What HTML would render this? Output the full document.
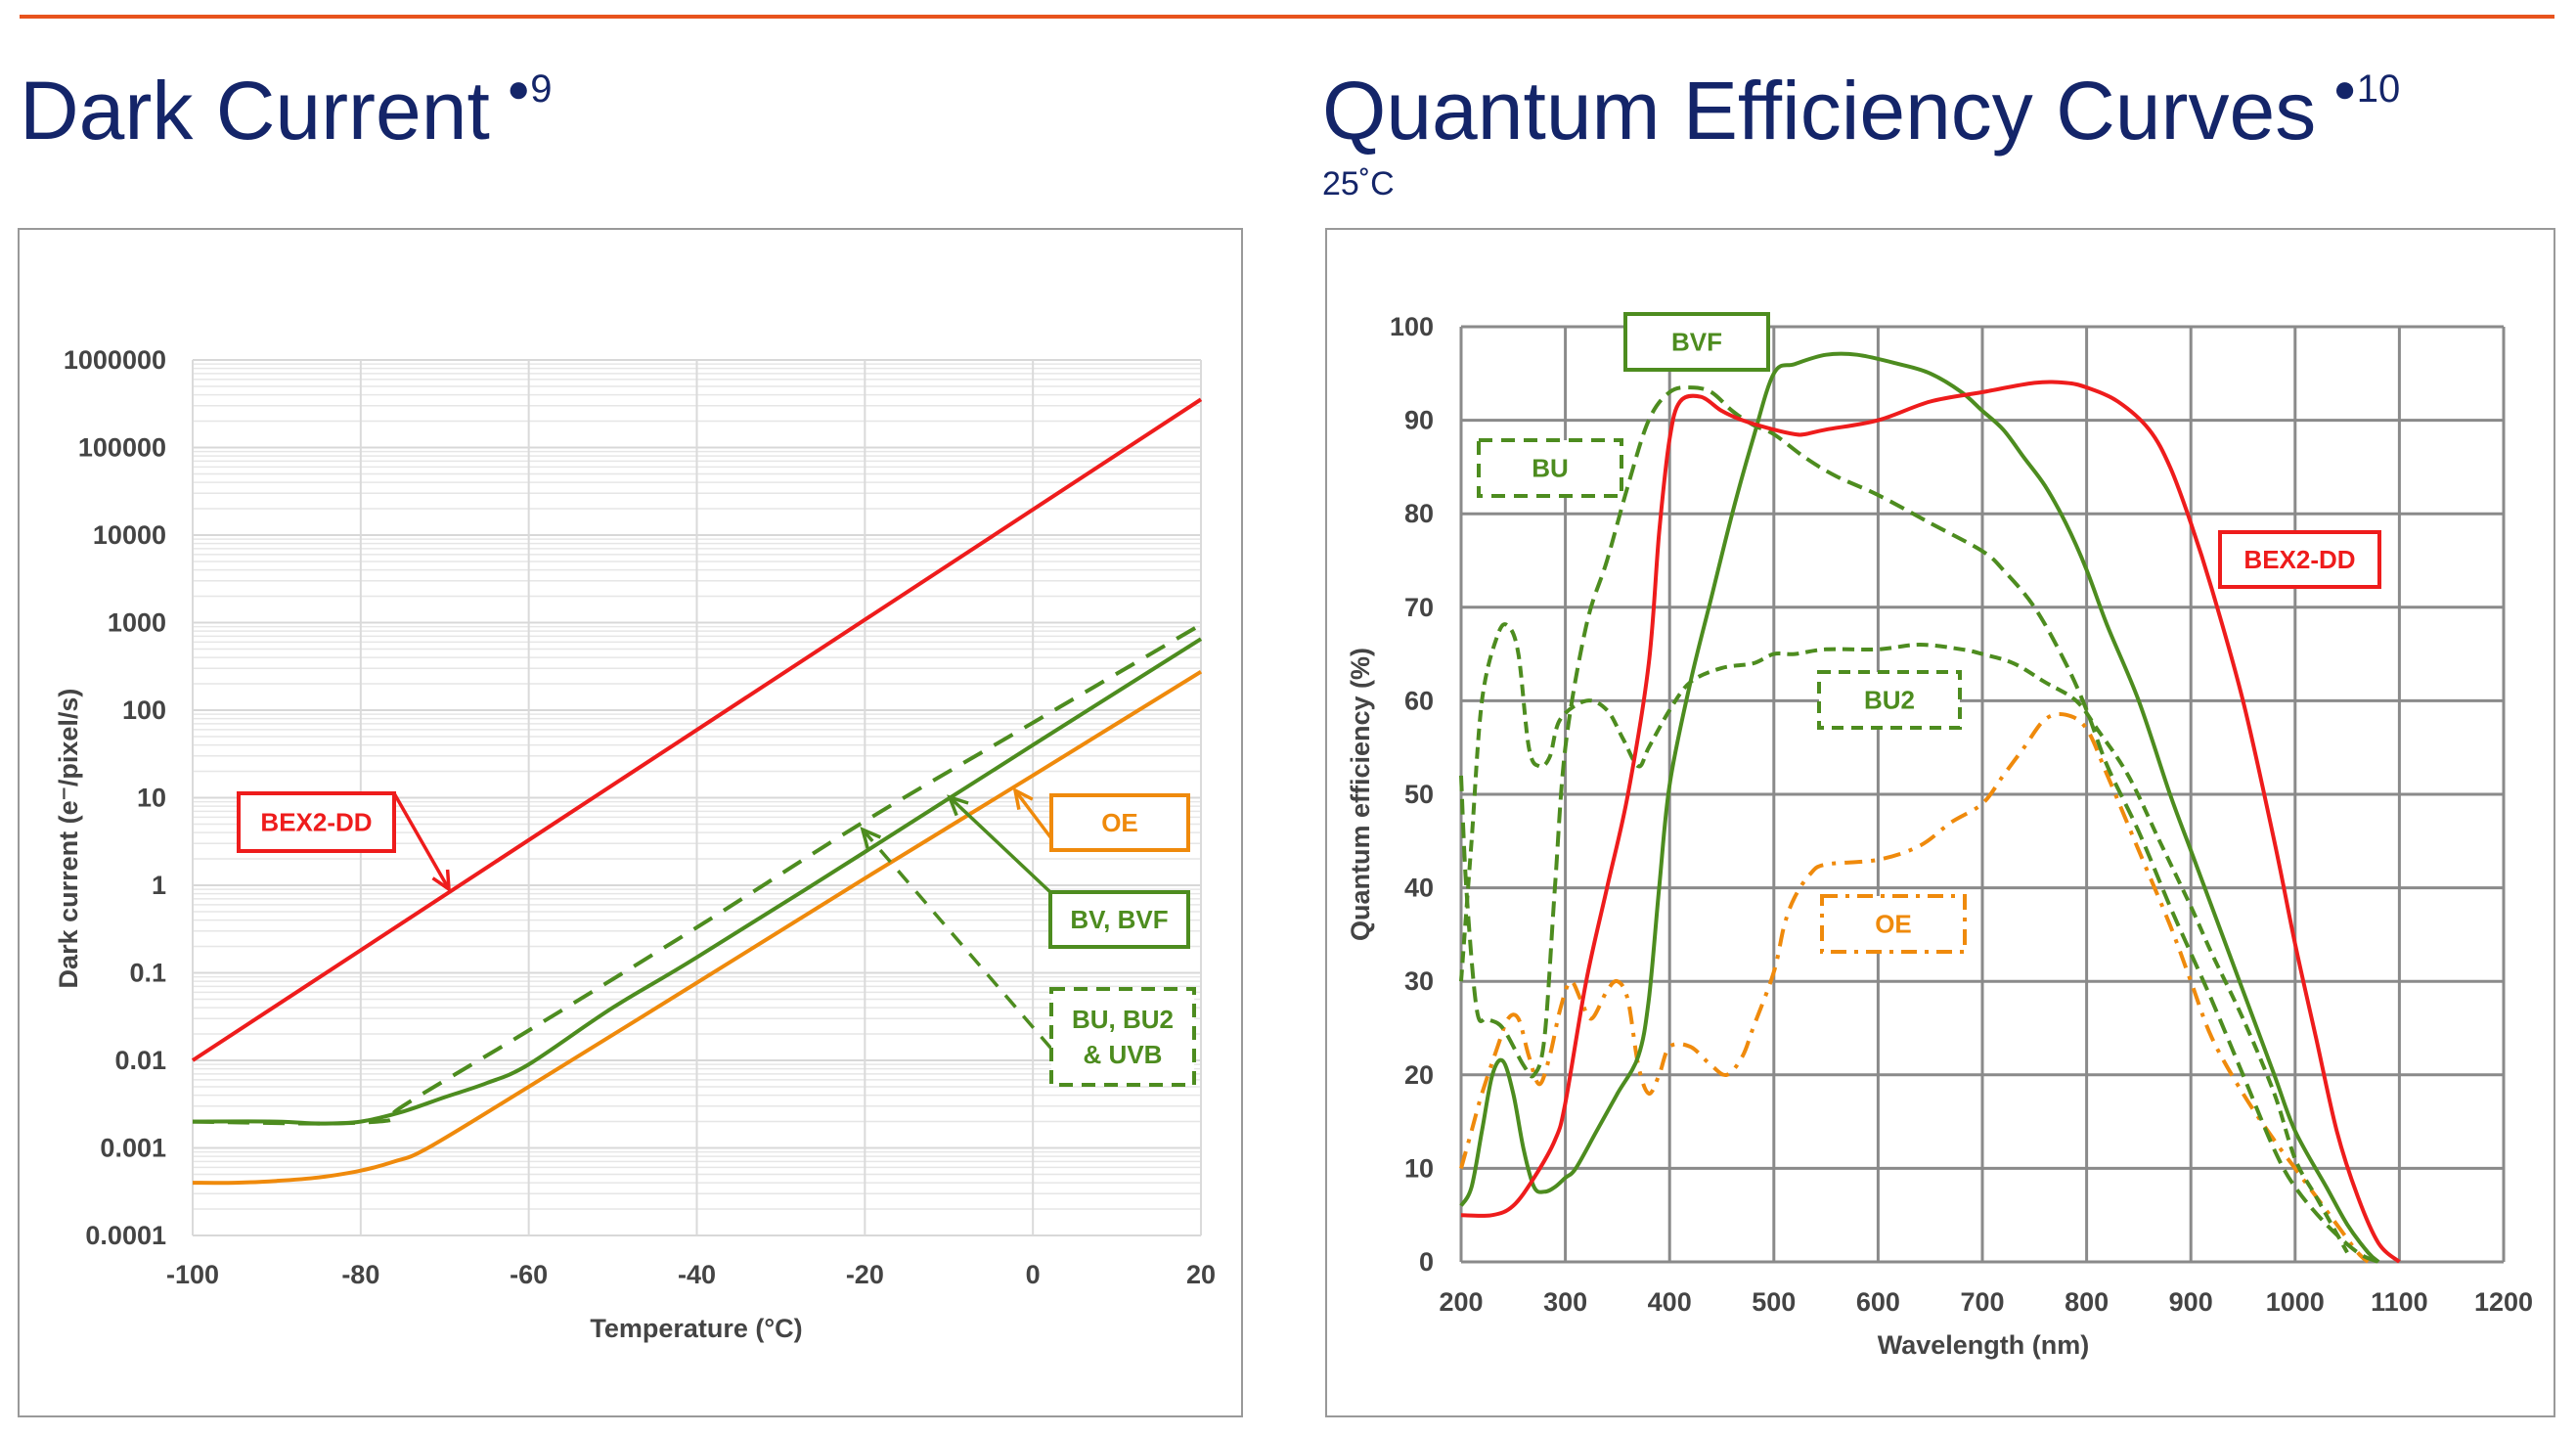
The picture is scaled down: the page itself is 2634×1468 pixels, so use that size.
<!DOCTYPE html>
<html><head><meta charset="utf-8"><style>
html,body{margin:0;padding:0;background:#fff;}
svg{display:block;font-family:"Liberation Sans",sans-serif;}
</style></head><body>
<svg id="s" width="2634" height="1468" viewBox="0 0 2634 1468" xmlns="http://www.w3.org/2000/svg">
<rect x="20" y="15" width="2592" height="4" fill="#e8531d"/>
<text x="20" y="142" font-size="84" fill="#142569">Dark Current <tspan font-size="40" dy="-38" dx="-6">●9</tspan></text>
<text x="1352" y="142" font-size="84" fill="#142569">Quantum Efficiency Curves <tspan font-size="40" dy="-38" dx="-6">●10</tspan></text>
<text x="1352" y="199" font-size="34" fill="#142569">25˚C</text>
<rect x="19" y="234" width="1251" height="1214" fill="none" stroke="#999" stroke-width="2"/>
<rect x="1356" y="234" width="1256" height="1214" fill="none" stroke="#999" stroke-width="2"/>
<g id="L"></g>
<g id="R"></g>
</svg>
<script>
// ---- Dark current data ----
const dcTempTicks = [-100,-80,-60,-40,-20,0,20];
const dcYTickLabels = ["0.0001","0.001","0.01","0.1","1","10","100","1000","10000","100000","1000000"];
const bexTemps = [-100,20];
const bexVals = [0.01,355000];
const bvTemps = [-100,-90,-85,-80,-75,-70,-65,-60,-50,-40,-20,0,20];
const bvVals = [0.002,0.002,0.0019,0.002,0.0026,0.0038,0.0055,0.009,0.04,0.15,2.4,40,650];
const buTemps = [-100,-85,-78,-76,-75,-60,-40,-20,0,20];
const buVals = [0.002,0.0019,0.002,0.0022,0.003,0.022,0.33,5.4,72,950];
const oeTemps = [-100,-95,-90,-85,-80,-76,-72,-60,-40,-20,0,20];
const oeVals = [0.0004,0.0004,0.00042,0.00046,0.00055,0.0007,0.001,0.005,0.077,1.2,18,275];

// ---- QE data ----
const qeXTicks = [200,300,400,500,600,700,800,900,1000,1100,1200];
const qeYTicks = [0,10,20,30,40,50,60,70,80,90,100];
const bexW = [200,230,250,270,290,300,320,340,360,380,390,400,410,430,450,470,500,520,530,550,600,650,700,750,780,800,830,860,880,900,920,950,980,1000,1020,1040,1060,1080,1100];
const bexQ = [5,5,6,9,13,17,30,40,50,64,78,88,92,92.5,91,90,89,88.5,88.5,89,90,92,93,94,94,93.5,92,89,85,79,72,60,45,34,24,14,7,2,0];
const bvfW = [200,210,220,230,240,250,260,270,280,290,300,310,330,350,370,380,390,400,420,440,460,480,500,520,550,580,620,650,680,700,720,740,760,780,800,820,850,880,900,920,950,980,1000,1030,1050,1070,1080];
const bvfQ = [6,8,14,20,21.5,18,12,8,7.5,8,9,10,14,18,22,28,40,51,62,71,80,88,95,96,97,97,96,95,93,91,89,86,83,79,74,68,60,50,44,38,29,20,14,8,4,1,0];
const buW = [200,205,215,225,240,260,270,280,290,300,320,340,360,380,400,420,440,460,480,500,530,560,600,650,700,720,750,780,800,820,850,880,900,920,950,980,1000,1030,1060,1080];
const buQ = [52,40,27,26,25,21,20,24,40,55,68,75,83,90,93,93.5,93,91,89.5,88.5,86,84,82,79,76,74,70,64,59,53,46,38,33,28,20,12,8,4,1,0];
const bu2W = [200,210,220,235,245,255,265,275,285,295,320,340,355,370,380,400,420,450,480,500,520,550,600,640,680,700,730,760,790,810,840,870,900,920,950,980,1000,1020,1040,1050];
const bu2Q = [30,45,60,67,68,65,55,53,54,58,60,59,56,53,55,59,62,63.5,64,65,65,65.5,65.5,66,65.5,65,64,62,60,57,52,45,38,33,26,18,11,7,3,1];
const oeW = [200,210,220,235,245,255,265,275,285,295,305,315,325,340,350,360,370,380,390,400,420,440,455,470,480,500,510,520,535,550,600,640,670,700,720,740,760,780,800,820,850,880,900,920,950,980,1000,1020,1040,1060,1070];
const oeQ = [10,14,18,23,26,26,22,19,22,27,30,28,26,29,30,28,21,18,20,23,23,21,20,22,25,31,36,39,41.5,42.5,43,44.5,47,49,52,55,58,58.5,57,52,44,36,30,24,18,13,10,7,4,1,0];

const NS="http://www.w3.org/2000/svg";
function mk(parent,tag,attrs,text){const e=document.createElementNS(NS,tag);for(const k in attrs)e.setAttribute(k,attrs[k]);if(text!==undefined)e.textContent=text;parent.appendChild(e);return e;}
const RED="#ee1c1c",GREEN="#4d8c1f",ORANGE="#ef8a0c";
function smoothPts(P){let d='M'+P[0][0].toFixed(1)+','+P[0][1].toFixed(1);
for(let i=0;i<P.length-1;i++){const p0=P[i-1]||P[i],p1=P[i],p2=P[i+1],p3=P[i+2]||p2;
const c1=[p1[0]+(p2[0]-p0[0])/6,p1[1]+(p2[1]-p0[1])/6],c2=[p2[0]-(p3[0]-p1[0])/6,p2[1]-(p3[1]-p1[1])/6];
d+=`C${c1[0].toFixed(1)},${c1[1].toFixed(1)} ${c2[0].toFixed(1)},${c2[1].toFixed(1)} ${p2[0].toFixed(1)},${p2[1].toFixed(1)}`;}return d;}

// ---- Left chart ----
const L=document.getElementById('L');
const lx0=197,lx1=1228,ly0=1263,ly1=368;
const lX=t=>lx0+(t+100)/120*(lx1-lx0);
const lY=v=>ly0-(Math.log10(v)+4)/10*(ly0-ly1);
for(let d=-4;d<6;d++){for(let m=2;m<10;m++){const v=m*Math.pow(10,d);const ln=mk(L,'line',{x1:lx0,x2:lx1,y1:lY(v),y2:lY(v),stroke:'#e6e6e6','stroke-width':1.5});

}}
dcYTickLabels.forEach((lab,i)=>{const v=Math.pow(10,i-4);const y=lY(v);
const ln=mk(L,'line',{x1:lx0,x2:lx1,y1:y,y2:y,stroke:'#d8d8d8','stroke-width':2});


const t=mk(L,'text',{x:170,y:y+9,'text-anchor':'end','font-size':27,'font-weight':'bold',fill:'#444'},lab);

});
dcTempTicks.forEach(tk=>{const x=lX(tk);
const ln=mk(L,'line',{x1:x,x2:x,y1:ly1,y2:ly0,stroke:'#dadada','stroke-width':2});


const t=mk(L,'text',{x:x,y:1312,'text-anchor':'middle','font-size':27,'font-weight':'bold',fill:'#444'},String(tk));

});
let tt=mk(L,'text',{x:712,y:1367,'text-anchor':'middle','font-size':27,'font-weight':'bold',fill:'#444'},"Temperature (°C)");


tt=mk(L,'text',{x:0,y:0,'text-anchor':'middle','font-size':27,'font-weight':'bold',fill:'#444',transform:'translate(79,857) rotate(-90)'},"Dark current (e⁻/pixel/s)");


function lpath(ts,vs,col,dash,name){const d=smoothPts(ts.map((t,i)=>[lX(t),lY(vs[i])]));
const p=mk(L,'path',{d:d,fill:'none',stroke:col,'stroke-width':4,'stroke-dasharray':dash||'none','stroke-linejoin':'round'});

}
lpath(oeTemps,oeVals,ORANGE,null,'oe-line');
lpath(buTemps,buVals,GREEN,'22,14','bu-line');
lpath(bvTemps,bvVals,GREEN,null,'bv-line');
lpath(bexTemps,bexVals,RED,null,'bex2-dd-line');

function box(g,x,y,w,h,col,dash,lines,name){const b=mk(g,'rect',{x:x,y:y,width:w,height:h,fill:'#fff',stroke:col,'stroke-width':4,'stroke-dasharray':dash||'none'});


lines.forEach((s,i)=>{const t=mk(g,'text',{x:x+w/2,y:y+h/2+9+(i-(lines.length-1)/2)*36,'text-anchor':'middle','font-size':26,'font-weight':'bold',fill:col},s);

});}
function arrow(g,x1,y1,x2,y2,col,dash,name){const p=mk(g,'line',{x1:x1,y1:y1,x2:x2,y2:y2,stroke:col,'stroke-width':3.5,'stroke-dasharray':dash||'none'});


const a=Math.atan2(y2-y1,x2-x1),L2=20;
const h=mk(g,'path',{d:`M${x2-L2*Math.cos(a-0.45)},${y2-L2*Math.sin(a-0.45)}L${x2},${y2}L${x2-L2*Math.cos(a+0.45)},${y2-L2*Math.sin(a+0.45)}`,fill:'none',stroke:col,'stroke-width':3.5});

}
box(L,244,811,159,59,RED,null,["BEX2-DD"],'bex2-dd-annotation');
arrow(L,403,811,459,909,RED,null,'bex2-dd-arrow');
box(L,1075,813,140,56,ORANGE,null,["OE"],'oe-annotation');
arrow(L,1075,857,1038,808,ORANGE,null,'oe-arrow');
box(L,1074,912,141,56,GREEN,null,["BV, BVF"],'bv-annotation');
arrow(L,1074,912,971,815,GREEN,null,'bv-arrow');
arrow(L,1075,1072,882,848,GREEN,'16,12','bu-arrow');
box(L,1075,1011,146,98,GREEN,'14,9',["BU, BU2","& UVB"],'bu-annotation');

// ---- Right chart ----
const R=document.getElementById('R');
const rx0=1494,rx1=2560,ry0=1290,ry1=334;
const rX=w=>rx0+(w-200)/1000*(rx1-rx0);
const rY=q=>ry0-q/100*(ry0-ry1);
qeYTicks.forEach(q=>{const y=rY(q);
const ln=mk(R,'line',{x1:rx0,x2:rx1,y1:y,y2:y,stroke:'#8a8a8a','stroke-width':3});


const t=mk(R,'text',{x:1466,y:y+9,'text-anchor':'end','font-size':27,'font-weight':'bold',fill:'#444'},String(q));

});
qeXTicks.forEach(w=>{const x=rX(w);
const ln=mk(R,'line',{x1:x,x2:x,y1:ry1,y2:ry0,stroke:'#8a8a8a','stroke-width':3});


const t=mk(R,'text',{x:x,y:1340,'text-anchor':'middle','font-size':27,'font-weight':'bold',fill:'#444'},String(w));

});
tt=mk(R,'text',{x:2028,y:1384,'text-anchor':'middle','font-size':27,'font-weight':'bold',fill:'#444'},"Wavelength (nm)");


tt=mk(R,'text',{x:0,y:0,'text-anchor':'middle','font-size':27,'font-weight':'bold',fill:'#444',transform:'translate(1400,812) rotate(-90)'},"Quantum efficiency (%)");


function rpath(ws,qs,col,dash,name){const p=mk(R,'path',{d:smoothPts(ws.map((w,i)=>[rX(w),rY(qs[i])])),fill:'none',stroke:col,'stroke-width':4,'stroke-dasharray':dash||'none','stroke-linejoin':'round'});

}
rpath(oeW,oeQ,ORANGE,'18,9,4,9','oe-curve');
rpath(bu2W,bu2Q,GREEN,'12,7','bu2-curve');
rpath(buW,buQ,GREEN,'16,8','bu-curve');
rpath(bvfW,bvfQ,GREEN,null,'bvf-curve');
rpath(bexW,bexQ,RED,null,'bex2-dd-curve');
box(R,1662,321,146,57,GREEN,null,["BVF"],'bvf-annotation');
box(R,1512,450,146,57,GREEN,'14,9',["BU"],'bu-annotation');
box(R,2270,544,163,56,RED,null,["BEX2-DD"],'bex2-dd-annotation');
box(R,1860,687,144,57,GREEN,'12,8',["BU2"],'bu2-annotation');
box(R,1863,916,146,57,ORANGE,'16,8,4,8',["OE"],'oe-annotation');
</script>
</body></html>
